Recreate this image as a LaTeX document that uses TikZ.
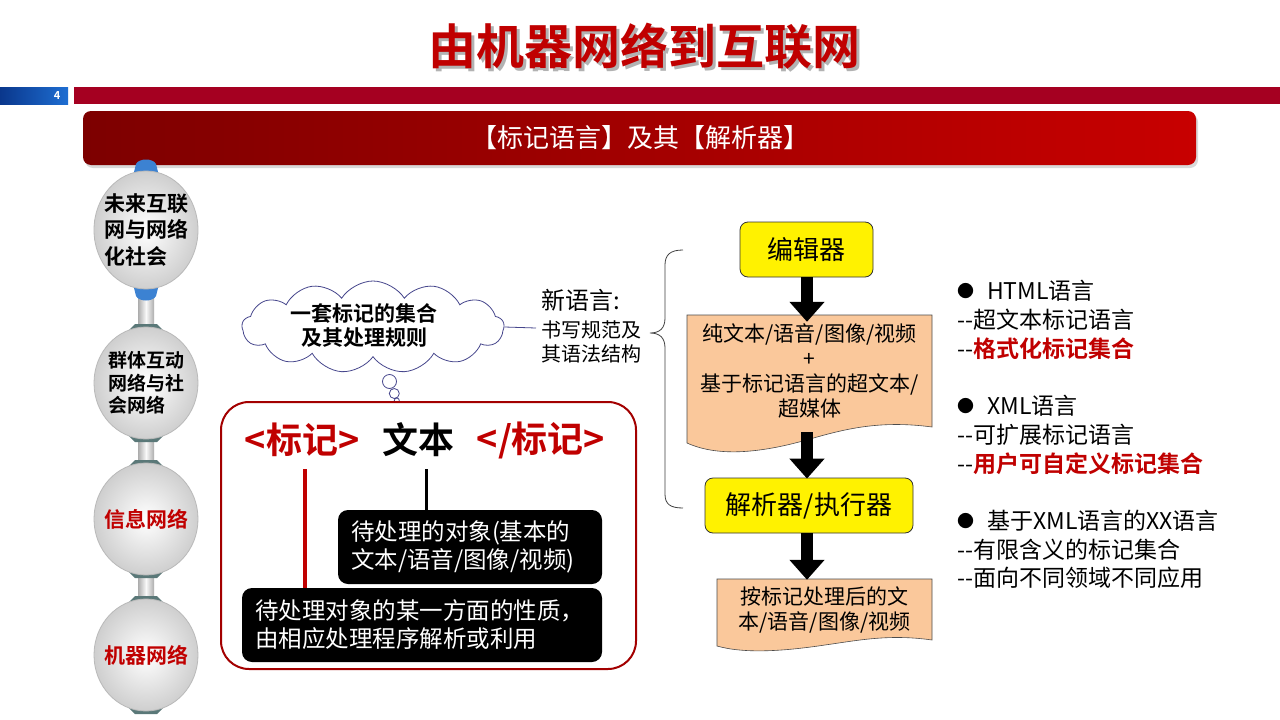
\documentclass[tikz,border=0pt]{standalone}
\usepackage{fontspec}
\setmainfont{Noto Sans CJK SC}[BoldFont={Noto Sans CJK SC Bold}]
\usetikzlibrary{shapes.geometric,shapes.symbols,arrows.meta,calc}
\definecolor{dred}{RGB}{192,0,0}
\definecolor{barred}{RGB}{165,0,33}
\definecolor{bandark}{RGB}{125,0,0}
\definecolor{banlight}{RGB}{200,0,0}
\definecolor{blueL}{RGB}{30,110,210}
\definecolor{blueD}{RGB}{10,55,140}
\definecolor{cloudc}{RGB}{70,70,140}
\definecolor{peach}{RGB}{250,200,155}
\definecolor{capc}{RGB}{90,120,120}
\definecolor{capb}{RGB}{60,130,210}
\tikzset{
  ball/.style={ellipse, minimum width=104pt, minimum height=112pt, inner sep=0pt,
    inner color=white, outer color=gray!38, draw=gray!55, line width=0.8pt, align=left},
  balltxt/.style={font=\bfseries\fontsize{20}{25}\selectfont},
  ybox/.style={draw=black!80, fill=yellow, rounded corners=8pt, line width=0.8pt,
    font=\fontsize{26}{30}\selectfont, inner sep=0pt},
  doctext/.style={inner sep=0pt, align=center, font=\fontsize{21}{25}\selectfont},
  blk/.style={line width=12pt, draw=black, -{Triangle[width=34pt,length=20pt]}},
  bbox/.style={fill=black, rounded corners=10pt, text=white, align=left, inner sep=0pt,
    font=\fontsize{23.5}{28}\selectfont},
  tagtxt/.style={font=\bfseries\fontsize{36}{40}\selectfont, inner sep=0pt},
  rtxt/.style={anchor=west, inner sep=0pt, font=\fontsize{23}{28}\selectfont},
  bulletc/.style={anchor=west, inner sep=0pt, font=\fontsize{17}{20}\selectfont},
}
\begin{document}
\begin{tikzpicture}[x=1pt,y=-1pt]
\useasboundingbox (0,0) rectangle (1280,720);
\fill[white] (0,0) rectangle (1280,720);

% title with shadow (one node)
\node[font=\bfseries\fontsize{48}{54}\selectfont, inner sep=0pt] (title) at (644,48)
  {\makebox[0pt][l]{\hspace{3pt}\raisebox{-3pt}{\textcolor{black!30}{由机器网络到互联网}}}\textcolor{dred}{由机器网络到互联网}};

% header bars
\shade[left color=blueD, right color=blueL] (0,87) rectangle (68,104);
\node[text=white, font=\bfseries\fontsize{11}{12}\selectfont] (pnum) at (57,95.5) {4};
\fill[barred] (74,87) rectangle (1280,104);

% banner
\fill[black!15, rounded corners=8pt] (85,114) rectangle (1198,168);
\shade[left color=bandark, right color=banlight, rounded corners=8pt] (83,111) rectangle (1196,165);
\node[text=white, font=\fontsize{26}{30}\selectfont] (banner) at (640,138) {【标记语言】及其【解析器】};

% left column: connectors and caps
\shade[left color=gray!65, right color=gray!65, middle color=white!95!gray] (138,290) rectangle (154,610);
\fill[capb] (133,176) -- (159,176) -- (156,164) .. controls (153,158) and (139,158) .. (136,164) -- cycle;
\fill[capb] (133,284) -- (159,284) -- (156,296) .. controls (153,302) and (139,302) .. (136,296) -- cycle;
\foreach \cy in {383,519,655}{
  \fill[capc] (126,\cy-50) -- (166,\cy-50) -- (157,\cy-59) -- (135,\cy-59) -- cycle;
  \fill[capc] (126,\cy+50) -- (166,\cy+50) -- (157,\cy+59) -- (135,\cy+59) -- cycle;
}
\node[ball, minimum height=118pt] (c1) at (146,230) {};
\node[ball] (c2) at (146,383) {};
\node[ball] (c3) at (146,519) {};
\node[ball] (c4) at (146,655) {};
\node[balltxt, align=left, font=\bfseries\fontsize{21}{26.5}\selectfont] (t1) at (c1) {未来互联\\网与网络\\化社会};
\node[balltxt, align=left, font=\bfseries\fontsize{19}{22.5}\selectfont] (t2) at (c2) {群体互动\\网络与社\\会网络};
\node[balltxt, text=dred, font=\bfseries\fontsize{21}{25}\selectfont] (t3) at (c3) {信息网络};
\node[balltxt, text=dred, font=\bfseries\fontsize{21}{25}\selectfont] (t4) at (c4) {机器网络};

% cloud
\node[cloud, cloud puffs=13, cloud puff arc=115, aspect=2.8, draw=cloudc, fill=white, line width=0.8pt,
  minimum width=262pt, minimum height=92pt, inner sep=0pt] (cloud) at (373,327) {};
\node[align=center, inner sep=0pt, font=\bfseries\fontsize{21}{24}\selectfont] (cloudtxt) at (364,326) {一套标记的集合\\及其处理规则};
\draw[cloudc, fill=white, line width=0.8pt] (389.5,381.5) circle[radius=7];
\draw[cloudc, fill=white, line width=0.8pt] (394.3,393.5) circle[radius=5];
\draw[cloudc, fill=white, line width=0.8pt] (396.8,400.5) circle[radius=2.5];
\coordinate (cl) at (536,328);
\draw[cloudc, line width=0.8pt] (cloud.east) -- (cl);

\node[anchor=west, inner sep=0pt, font=\fontsize{24}{28}\selectfont] (newl) at (541,300) {新语言:};
\node[anchor=west, inner sep=0pt, align=left, font=\fontsize{20}{24}\selectfont] (newd) at (541,342) {书写规范及\\其语法结构};

% brace
\draw[black!75, line width=0.8pt] (683,250) .. controls (670,250) and (665,255) .. (665,265) -- (665,318)
  .. controls (665,328) and (660,333) .. (650,333) .. controls (660,333) and (665,338) .. (665,348)
  -- (665,494) .. controls (665,504) and (670,508) .. (683,508);

% red box
\draw[dred!85!black, line width=2pt, fill=white, rounded corners=28pt] (221,402) rectangle (636,669);
\node[tagtxt, text=dred] (tag1) at (302,440) {<标记>};
\node[tagtxt] (tag2) at (418,440) {文本};
\node[tagtxt, text=dred] (tag3) at (541,440) {</标记>};
\node[bbox, minimum width=264pt, minimum height=74pt, text width=238pt] (bx1) at (470,547) {待处理的对象(基本的\\文本/语音/图像/视频)};
\node[bbox, minimum width=360pt, minimum height=74pt, text width=334pt] (bx2) at (422,625) {待处理对象的某一方面的性质，\\由相应处理程序解析或利用};
\draw[dred, line width=4pt] ([xshift=3pt,yshift=-12pt]tag1.south) -- ([xshift=3pt]tag1.south |- bx2.north);
\draw[black, line width=3pt] ([xshift=8pt,yshift=-12pt]tag2.south) -- ([xshift=8pt]tag2.south |- bx1.north);

% flowchart
\node[ybox, minimum width=133pt, minimum height=55pt] (ed) at (806.5,249.5) {编辑器};
\fill[peach] (687,315) -- (932,315) -- (932,427) .. controls (880,420) and (845,429) .. (810,439)
  .. controls (765,452) and (720,458) .. (687,443) -- cycle;
\draw[black!70, line width=0.6pt] (687,315) -- (932,315) -- (932,427) .. controls (880,420) and (845,429) .. (810,439)
  .. controls (765,452) and (720,458) .. (687,443) -- cycle;
\node[doctext, minimum width=245pt, minimum height=112pt] (doc1) at (809.5,371)
  {纯文本/语音/图像/视频\\+\\基于标记语言的超文本/\\超媒体};
\node[ybox, minimum width=208pt, minimum height=55pt] (par) at (809,505.5) {解析器/执行器};
\fill[peach] (717,579) -- (932,579) -- (932,640) .. controls (890,634) and (860,640) .. (825,645)
  .. controls (785,651) and (745,654) .. (717,646) -- cycle;
\draw[black!70, line width=0.6pt] (717,579) -- (932,579) -- (932,640) .. controls (890,634) and (860,640) .. (825,645)
  .. controls (785,651) and (745,654) .. (717,646) -- cycle;
\node[doctext, minimum width=215pt, minimum height=61pt] (doc2) at (824.5,609.5) {按标记处理后的文\\本/语音/图像/视频};
\coordinate (ax) at (807,0);
\draw[blk] (ed.south -| ax) -- ([yshift=-7pt]doc1.north -| ax);
\draw[blk] ([yshift=-5pt]doc1.south -| ax) -- ([yshift=-1pt]par.north -| ax);
\draw[blk] (par.south -| ax) -- ([yshift=-1pt]doc2.north -| ax);

% right list
\node[bulletc] (b1) at (957,291) {●};
\node[rtxt] (r1) at (987,291) {HTML语言};
\node[rtxt] (r2) at (957,320) {-{}-超文本标记语言};
\node[rtxt] (r3) at (957,349) {-{}-\textcolor{dred}{\bfseries 格式化标记集合}};
\node[bulletc] (b2) at (957,406) {●};
\node[rtxt] (r4) at (987,406) {XML语言};
\node[rtxt] (r5) at (957,435) {-{}-可扩展标记语言};
\node[rtxt] (r6) at (957,464) {-{}-\textcolor{dred}{\bfseries 用户可自定义标记集合}};
\node[bulletc] (b3) at (957,521) {●};
\node[rtxt] (r7) at (987,521) {基于XML语言的XX语言};
\node[rtxt] (r8) at (957,550) {-{}-有限含义的标记集合};
\node[rtxt] (r9) at (957,578) {-{}-面向不同领域不同应用};
\end{tikzpicture}
\end{document}
